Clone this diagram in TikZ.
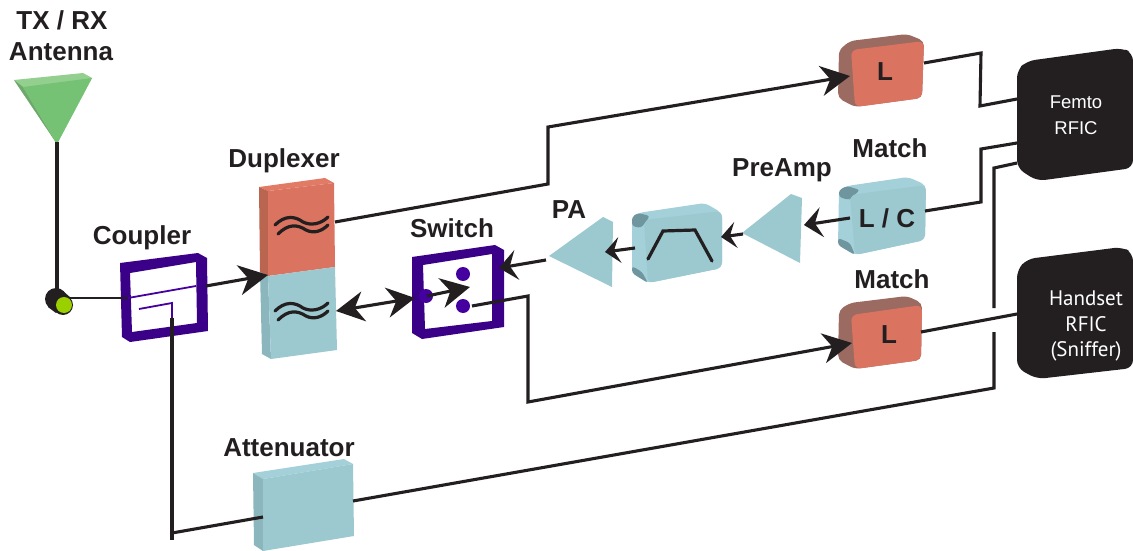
\documentclass[tikz,border=0pt]{standalone}
\usepackage{fontspec}
\setmainfont{Liberation Sans}
\newfontfamily\rficfont{PT Sans}
\usetikzlibrary{arrows.meta}
\definecolor{ink}{HTML}{231F20}
\definecolor{bluef}{HTML}{9CC8D0}
\definecolor{bluet}{HTML}{A3D0D9}
\definecolor{blues}{HTML}{8CB6BD}
\definecolor{bluedk}{HTML}{6F969E}
\definecolor{redf}{HTML}{DA7360}
\definecolor{redt}{HTML}{E27B66}
\definecolor{reds}{HTML}{B9654F}
\definecolor{redb}{HTML}{9B6A60}
\definecolor{purp}{HTML}{3A0088}
\definecolor{purpl}{HTML}{4500A0}
\definecolor{grn}{HTML}{76C274}
\definecolor{grnt}{HTML}{93D08F}
\definecolor{grns}{HTML}{6FA86D}
\definecolor{lime}{HTML}{9BD000}
\tikzset{
  wire/.style={draw=ink,line width=3.1pt,line join=miter},
  bigarrow/.style={wire,-{Stealth[length=29pt,width=30pt,inset=9pt]}},
  midarrow/.style={wire,-{Stealth[length=18pt,width=30pt,inset=7pt]}},
  smallarrow/.style={wire,-{Stealth[length=15pt,width=26pt,inset=6pt]}},
  dblarrow/.style={wire,{Stealth[length=28pt,width=30pt,inset=9pt]}-{Stealth[length=28pt,width=30pt,inset=9pt]}},
  lbl/.style={font=\fontsize{26}{26}\selectfont\bfseries,text=ink,anchor=base,inner sep=0pt},
  rfic/.style={font=\rficfont\fontsize{21}{21}\selectfont,text=white,anchor=base,inner sep=0pt},
  femto/.style={font=\fontsize{18.5}{18.5}\selectfont,text=white,anchor=base,inner sep=0pt},
  glyph/.style={draw=ink,line width=3.2pt,line cap=round,fill=none},
  thin purple/.style={draw=purpl,line width=1.8pt},
}
\newcommand{\waves}[2]{%
  \draw[glyph] (#1+0,#2+0) .. controls (#1+10,#2-10) and (#1+20,#2-9) .. (#1+28,#2-3) .. controls (#1+36,#2+1) and (#1+46,#2-1) .. (#1+53,#2-8);
  \draw[glyph] (#1+3,#2+9) .. controls (#1+13,#2-1) and (#1+22,#2-1) .. (#1+31,#2+5) .. controls (#1+39,#2+9) and (#1+47,#2+6) .. (#1+53,#2+0);
}
\begin{document}
\begin{tikzpicture}[x=1pt,y=-1pt]
\useasboundingbox (0,0) rectangle (1133,551);
% anchor coordinates of connectors
\coordinate (antfoot) at (57,142);
\coordinate (jack) at (57,298);
\coordinate (jackout) at (70,298);
\coordinate (cplin) at (128,298);
\coordinate (cplout) at (206,286);
\coordinate (dupin) at (268,275);
\coordinate (cplsense) at (172,318);
\coordinate (atcorner) at (172,533);
\coordinate (atend) at (172,540);
\coordinate (atin) at (263,517);
\coordinate (atout) at (353,501);
\coordinate (hs1) at (994,388);
\coordinate (hs2) at (994,332);
\coordinate (hs3) at (994,308);
\coordinate (hs4) at (994,168);
\coordinate (femC) at (1017,163);
\coordinate (dupout) at (335,222);
\coordinate (rxa) at (548,184);
\coordinate (rxb) at (548,127);
\coordinate (lin) at (850,76);
\coordinate (lout) at (924,63);
\coordinate (la) at (981,53);
\coordinate (lb) at (980,106);
\coordinate (femA) at (1017,99);
\coordinate (lcout) at (925,211);
\coordinate (lca) at (981,202);
\coordinate (lcb) at (981,149);
\coordinate (femB) at (1017,143);
\coordinate (lcin) at (850,218);
\coordinate (preout) at (804,225);
\coordinate (pretip) at (743,234);
\coordinate (filtin) at (721,237);
\coordinate (filtout) at (635,248);
\coordinate (pain) at (605,252);
\coordinate (patip) at (546,260);
\coordinate (swin) at (499,268);
\coordinate (dupsw) at (336,311);
\coordinate (swleft) at (415,298);
\coordinate (swa) at (427,296);
\coordinate (swb) at (470,287);
\coordinate (swout) at (472,306);
\coordinate (sna) at (528,296);
\coordinate (snb) at (528,402);
\coordinate (lbin) at (852,343);
\coordinate (lbout) at (921,332);
\coordinate (hsin) at (1017,314);

% antenna
\fill[grnt] (14,80) -- (83,73) -- (92,78) -- (57,144) -- cycle;
\fill[grns] (14,80) -- (23,87) -- (57,144) -- cycle;
\fill[grn] (23,87) -- (92,78) -- (57,144) -- cycle;

% duplexer
\fill[redt] (259,187) -- (325,178) -- (334,183) -- (268,191) -- cycle;
\fill[reds] (259,187) -- (268,191) -- (268,276) -- (260,272) -- cycle;
\fill[redf] (268,191) -- (334,183) -- (335,267) -- (268,276) -- cycle;
\fill[blues] (260,272) -- (268,276) -- (271,359) -- (262,354) -- cycle;
\fill[bluef] (268,276) -- (335,267) -- (337,350) -- (271,359) -- cycle;
\waves{275}{225}
\waves{275}{311}

% coupler
\fill[purp,even odd rule] (120,263) -- (198,253) -- (207,258) -- (208,331) -- (130,342) -- (122,337) -- cycle
  (130,273) -- (196,262) -- (197,323) -- (132,332) -- cycle;
\draw[thin purple] (128,298) -- (196,286);
\draw[thin purple] (139,309) -- (172,303) -- (172,323);

% switch
\fill[purp,even odd rule] (412,257) -- (495,245) -- (504,250) -- (504,327) -- (422,339) -- (412,333) -- cycle
  (423,265) -- (492,254) -- (492,321) -- (425,329) -- cycle;
\fill[purpl] (463,274) circle[radius=7];
\fill[purpl] (463,306) circle[radius=7];
\fill[purpl] (426,296) circle[radius=7];

% PA
\fill[bluef] (549,256) -- (603,217) -- (613,222) -- (612,287) -- cycle;
% PreAmp
\fill[bluef] (742,233) -- (791,194) -- (802,198) -- (800,263) -- cycle;

% filter
\fill[bluet,rounded corners=5pt] (632,217) -- (638,213) -- (705,203) -- (722,213) -- (722,268) -- (648,283) -- (632,273) -- cycle;
\fill[bluedk,rounded corners=3pt] (632,217) -- (638,213) -- (650,216) -- (641,228) -- (632,226) -- cycle;
\fill[bluedk,rounded corners=3pt] (632,266) -- (642,272) -- (648,283) -- (632,273) -- cycle;
\fill[bluef,rounded corners=6pt] (644,220) -- (722,211) -- (722,268) -- (648,283) -- cycle;
\draw[glyph,line join=miter] (648,259) -- (663,231) -- (695,230) -- (712,261);

% top L
\fill[redb,rounded corners=5pt] (839,50) -- (850,41) -- (907,34) -- (924,41) -- (922,98) -- (855,107) -- (838,98) -- cycle;
\fill[redf,rounded corners=6pt] (851,50) -- (924,41) -- (922,98) -- (855,107) -- cycle;
% L/C
\fill[bluet,rounded corners=5pt] (839,190) -- (847,186) -- (908,177) -- (926,185) -- (925,240) -- (855,255) -- (838,245) -- cycle;
\fill[bluedk,rounded corners=3pt] (839,190) -- (847,186) -- (860,190) -- (851,198) -- (849,200) -- (839,197) -- cycle;
\fill[bluedk,rounded corners=3pt] (838,238) -- (850,243) -- (855,255) -- (838,245) -- cycle;
\fill[bluef,rounded corners=6pt] (850,195) -- (926,185) -- (925,240) -- (855,255) -- cycle;
% bottom L
\fill[redb,rounded corners=5pt] (839,310) -- (850,303) -- (907,296) -- (922,303) -- (921,360) -- (855,369) -- (838,360) -- cycle;
\fill[redf,rounded corners=6pt] (851,315) -- (922,305) -- (921,360) -- (855,369) -- cycle;

% attenuator
\fill[bluet] (253,473) -- (344,459) -- (353,464) -- (263,479) -- cycle;
\fill[blues] (253,473) -- (263,479) -- (263,551) -- (254,545) -- cycle;
\fill[bluef] (263,479) -- (353,464) -- (354,536) -- (263,551) -- cycle;

% RFICs
\fill[ink,rounded corners=8pt] (1017,70) -- (1027,61) -- (1122,48) -- (1133,53) -- (1133,168) -- (1037,181) -- (1017,168) -- cycle;
\fill[ink,rounded corners=8pt] (1017,270) -- (1027,259) -- (1122,247) -- (1133,253) -- (1133,368) -- (1037,379) -- (1017,368) -- cycle;

% connectors
\draw[wire] (antfoot) -- (jack);
\fill[ink] (56,299) circle[radius=11];
\fill[ink] (63,305) circle[radius=10];
\fill[ink] (48,307) -- (63,291) -- (71,298) -- (56,313) -- cycle;
\fill[lime] (64,305) circle[radius=8];
\draw[draw=ink,line width=2.2pt] (jackout) -- (cplin);
\draw[bigarrow] (cplout) -- (dupin);
\draw[wire] (cplsense) -- (atend);
\draw[wire] (atcorner) -- (atin);
\draw[wire] (atout) -- (hs1) -- (hs2);
\draw[wire] (hs3) -- (hs4) -- (femC);
\draw[bigarrow] (dupout) -- (rxa) -- (rxb) -- (lin);
\draw[wire] (lout) -- (la) -- (lb) -- (femA);
\draw[wire] (lcout) -- (lca) -- (lcb) -- (femB);
\draw[midarrow] (lcin) -- (preout);
\draw[smallarrow] (pretip) -- (filtin);
\draw[smallarrow] (filtout) -- (pain);
\draw[midarrow] (patip) -- (swin);
\draw[dblarrow] (dupsw) -- (swleft);
\draw[bigarrow] (swa) -- (swb);
\draw[bigarrow] (swout) -- (sna) -- (snb) -- (lbin);
\draw[wire] (lbout) -- (hsin);

% labels
\node[lbl] (tlbl1) at (62,30) {TX / RX};
\node[lbl] (tlbl2) at (61,60) {Antenna};
\node[lbl] (tcoup) at (142,244) {Coupler};
\node[lbl] (tdup) at (284,167) {Duplexer};
\node[lbl] (tsw) at (452,237) {Switch};
\node[lbl] (tpa) at (569,218) {PA};
\node[lbl] (tpre) at (782,176) {PreAmp};
\node[lbl] (tm1) at (890,157) {Match};
\node[lbl] (tm2) at (892,288) {Match};
\node[lbl] (tatt) at (289,456) {Attenuator};
\node[lbl] (tl1) at (885,81) {L};
\node[lbl] (tlc) at (887,227) {L / C};
\node[lbl] (tl2) at (889,343) {L};
\node[femto] (tf1) at (1076,108) {Femto};
\node[femto] (tf2) at (1076,134) {RFIC};
\node[rfic] (th1) at (1086,305) {Handset};
\node[rfic] (th2) at (1086,331) {RFIC};
\node[rfic] (th3) at (1086,356) {(Sniffer)};
\end{tikzpicture}
\end{document}
